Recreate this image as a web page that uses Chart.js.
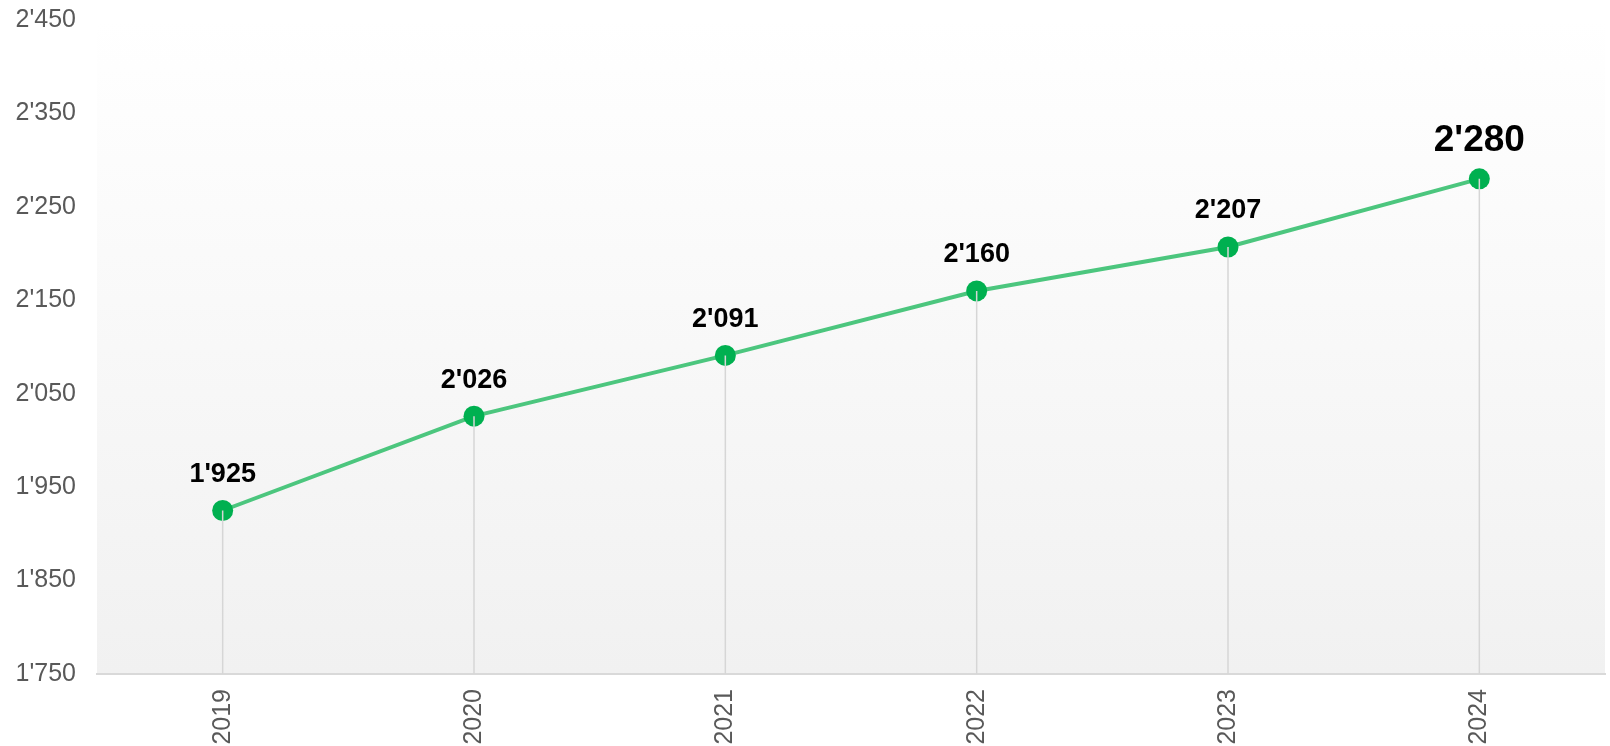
<!DOCTYPE html>
<html>
<head>
<meta charset="utf-8">
<script src="https://cdn.jsdelivr.net/npm/chart.js@4.4.1/dist/chart.umd.min.js"></script>
<style>
  html, body { margin: 0; padding: 0; background: #fff; }
  #wrap { width: 1610px; height: 746px; }
</style>
</head>
<body>
<div id="wrap"><canvas id="chart" width="1610" height="746"></canvas></div>
<script>
// data
const years = ["2019", "2020", "2021", "2022", "2023", "2024"];
const values = [1925, 2026, 2091, 2160, 2207, 2280];
const yMin = 1750;
const yMax = 2450;
const yStep = 100;

// 1'925 style
const fmt = (v) => String(v).replace(/\B(?=(\d{3})+(?!\d))/g, "'");

const FONT = "'Liberation Sans', Arial, sans-serif";

// gradient behind the plot area
const bgPlugin = {
  id: "bg",
  beforeDraw(chart) {
    const { ctx, chartArea: a } = chart;
    const g = ctx.createLinearGradient(0, a.top, 0, a.bottom);
    g.addColorStop(0, "#ffffff");
    g.addColorStop(1, "#f1f1f1");
    ctx.save();
    ctx.fillStyle = g;
    ctx.fillRect(a.left, a.top, a.right - a.left, a.bottom - a.top);
    ctx.restore();
  },
};

// drop lines + value labels
const marksPlugin = {
  id: "marks",
  afterDatasetsDraw(chart) {
    const { ctx, chartArea: a } = chart;
    const meta = chart.getDatasetMeta(0);
    ctx.save();
    ctx.strokeStyle = "#d6d6d6";
    ctx.lineWidth = 1.5;
    meta.data.forEach((pt) => {
      ctx.beginPath();
      ctx.moveTo(pt.x, pt.y);
      ctx.lineTo(pt.x, a.bottom);
      ctx.stroke();
    });
    ctx.fillStyle = "#000";
    ctx.textAlign = "center";
    ctx.textBaseline = "middle";
    meta.data.forEach((pt, i) => {
      const last = i === meta.data.length - 1;
      ctx.font = "bold " + (last ? 37 : 27) + "px " + FONT;
      ctx.fillText(fmt(values[i]), pt.x, pt.y - (last ? 38 : 36));
    });
    ctx.restore();
  },
};

// rotated x labels reserve room on the right; let the plot run to the edge
const edgePlugin = {
  id: "edge",
  afterLayout(chart) {
    const a = chart.chartArea;
    const target = chart.width - 5;
    if (a.right !== target) {
      const x = chart.scales.x;
      x.right = target;
      x.width = target - x.left;
      a.right = target;
      a.width = target - a.left;
      x.configure();
    }
  },
};

const config = {
  type: "line",
  data: {
    labels: years,
    datasets: [
      {
        data: values,
        borderColor: "#4cc67e",
        borderWidth: 4,
        pointRadius: 10.5,
        pointHoverRadius: 10.5,
        pointBackgroundColor: "#00b050",
        pointBorderWidth: 0,
        tension: 0,
      },
    ],
  },
  options: {
    responsive: false,
    animation: false,
    layout: { padding: { left: 0, right: 5, top: 20, bottom: 0 } },
    scales: {
      x: {
        offset: true,
        grid: { display: false },
        border: { display: true, color: "#d9d9d9", width: 2 },
        ticks: {
          color: "#595959",
          font: { family: FONT, size: 25 },
          minRotation: 90,
          maxRotation: 90,
          padding: 7,
        },
        afterFit(scale) {
          scale.height = 72;
          scale.paddingLeft = 0;
          scale.paddingRight = 0;
        },
      },
      y: {
        min: yMin,
        max: yMax,
        grid: { display: false, drawTicks: false },
        border: { display: false },
        ticks: {
          stepSize: yStep,
          color: "#595959",
          font: { family: FONT, size: 25 },
          padding: 21,
          callback: (v) => fmt(v),
        },
        afterFit(scale) {
          scale.width = 97;
          scale.paddingTop = 0;
          scale.paddingBottom = 0;
        },
      },
    },
    plugins: {
      legend: { display: false },
      tooltip: { enabled: false },
    },
  },
  plugins: [bgPlugin, marksPlugin, edgePlugin],
};

const chart = new Chart(document.getElementById("chart"), config);
</script>
</body>
</html>
